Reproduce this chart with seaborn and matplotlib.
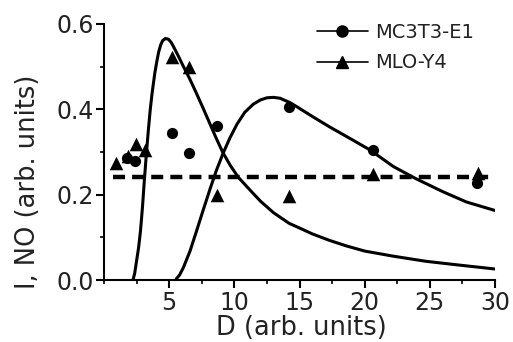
import matplotlib
matplotlib.use("Agg")
import matplotlib.pyplot as plt
from matplotlib.lines import Line2D
from matplotlib.ticker import MultipleLocator
import seaborn as sns
import pandas as pd

# ---- data ----
mc_x = [1.8, 2.4, 5.2, 6.5, 8.7, 14.2, 20.6, 28.6]
mc_y = [0.285, 0.280, 0.345, 0.298, 0.360, 0.405, 0.305, 0.227]

mlo_x = [0.95, 1.85, 2.45, 3.15, 5.25, 6.5, 8.7, 14.2, 20.6, 28.7]
mlo_y = [0.274, 0.290, 0.318, 0.305, 0.523, 0.500, 0.200, 0.197, 0.248, 0.252]

# fitted curve for MLO-Y4
fit1_x = [2.22, 2.35, 2.5, 2.65, 2.8, 2.95, 3.1, 3.25, 3.4, 3.55, 3.7, 3.9,
          4.07, 4.2, 4.35, 4.5, 4.72, 4.95, 5.15, 5.35, 5.7, 6.1, 6.6, 7.1,
          7.6, 8.1, 8.6, 9.1, 9.7, 10.3, 11.2, 12.0, 13.0, 14.2, 15.0, 16.0,
          17.3, 18.6, 20.0, 22.2, 24.7, 27.3, 30.0]
fit1_y = [0.000, 0.015, 0.045, 0.075, 0.115, 0.170, 0.235, 0.295, 0.350, 0.400,
          0.440, 0.485, 0.515, 0.535, 0.551, 0.561, 0.566, 0.564, 0.557, 0.546,
          0.525, 0.500, 0.470, 0.437, 0.403, 0.368, 0.333, 0.300, 0.268, 0.241,
          0.211, 0.185, 0.158, 0.133, 0.122, 0.108, 0.093, 0.080, 0.068, 0.056,
          0.044, 0.035, 0.026]

# fitted curve for MC3T3-E1
fit2_x = [5.55, 5.8, 6.1, 6.6, 7.1, 7.6, 8.1, 8.6, 9.15, 9.66, 10.2, 10.8,
          11.45, 12.0, 12.5, 13.0, 13.5, 14.25, 14.8, 16.0, 17.3, 18.8, 20.4,
          22.2, 23.9, 26.0, 27.8, 30.0]
fit2_y = [0.003, 0.012, 0.030, 0.068, 0.115, 0.163, 0.210, 0.255, 0.298, 0.333,
          0.365, 0.393, 0.412, 0.422, 0.427, 0.428, 0.426, 0.416, 0.406, 0.383,
          0.359, 0.333, 0.305, 0.266, 0.238, 0.207, 0.183, 0.163]

ref_x = [0.7, 30.0]
ref_y = [0.241, 0.241]

x_ticks = [5, 10, 15, 20, 25, 30]
y_ticks = [0.0, 0.2, 0.4, 0.6]
series_labels = ["MC3T3-E1", "MLO-Y4"]

# ---- plot ----
sns.set_style("ticks")
plt.rcParams['font.family'] = ['DejaVu Sans']

fig = plt.figure(figsize=(5.13, 3.42), dpi=100)
ax = fig.add_axes([0.2027, 0.181, 0.7623, 0.749])

df1 = pd.DataFrame({"x": fit1_x, "y": fit1_y})
df2 = pd.DataFrame({"x": fit2_x, "y": fit2_y})
sns.lineplot(data=df1, x="x", y="y", ax=ax, color="black", lw=2.2, sort=False)
sns.lineplot(data=df2, x="x", y="y", ax=ax, color="black", lw=2.2, sort=False)
sns.lineplot(x=ref_x, y=ref_y, ax=ax, color="black", lw=3.2,
             linestyle=(0, (2.7, 1.6)))

sns.scatterplot(x=mc_x, y=mc_y, ax=ax, marker="o", color="black", s=65,
                edgecolor="black", linewidth=0, zorder=5)
sns.scatterplot(x=mlo_x, y=mlo_y, ax=ax, marker="^", color="black", s=95,
                edgecolor="black", linewidth=0, zorder=5)

ax.set_xlim(0, 30)
ax.set_ylim(0, 0.6)
ax.set_xticks(x_ticks)
ax.set_yticks(y_ticks)
ax.set_yticklabels([f"{v:.1f}" for v in y_ticks])
ax.xaxis.set_minor_locator(MultipleLocator(2.5))
ax.yaxis.set_minor_locator(MultipleLocator(0.1))
ax.tick_params(axis="both", which="major", direction="out", length=5.5, width=1.5,
               labelsize=17, pad=2, color="black", labelcolor="#222222")
ax.tick_params(axis="both", which="minor", direction="out", length=3, width=1.2,
               color="black")
for s in ["top", "right"]:
    ax.spines[s].set_visible(False)
for s in ["left", "bottom"]:
    ax.spines[s].set_linewidth(1.5)
    ax.spines[s].set_color("black")

ax.set_xlabel("D (arb. units)", fontsize=18.5, color="#222222")
ax.set_ylabel("I, NO (arb. units)", fontsize=18.5, color="#222222")
ax.xaxis.set_label_coords(0.505, -0.135)
ax.yaxis.set_label_coords(-0.16, 0.383)

handles = [
    Line2D([], [], color="black", lw=1.2, marker="o", markersize=8),
    Line2D([], [], color="black", lw=1.2, marker="^", markersize=9),
]
ax.legend(handles, series_labels, loc="upper left", bbox_to_anchor=(0.525, 1.035),
          bbox_transform=ax.transAxes, frameon=False, fontsize=14,
          handlelength=2.6, handletextpad=0.4, labelspacing=0.6, numpoints=1,
          borderaxespad=0)
for t in ax.get_legend().get_texts():
    t.set_color("#222222")

fig.savefig("out.png", dpi=100)
